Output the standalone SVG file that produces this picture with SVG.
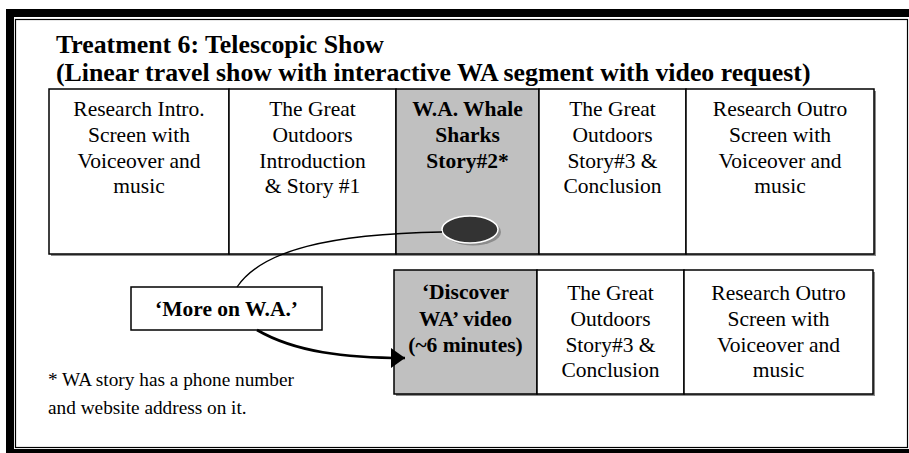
<svg xmlns="http://www.w3.org/2000/svg" width="909" height="453" viewBox="0 0 909 453">
  <style>
    .cell { fill: #ffffff; stroke: #000000; stroke-width: 1.5; }
    .grey { fill: #c0c0c0; stroke: #000000; stroke-width: 1.5; }
    .shadow { fill: #8c8c8c; }
    .t { font-family: "Liberation Serif", "Times New Roman", serif; font-size: 21.5px; fill: #000; text-anchor: middle; }
    .b { font-weight: bold; }
    .title { font-family: "Liberation Serif", "Times New Roman", serif; font-size: 25.8px; font-weight: bold; fill: #000; }
    .note { font-family: "Liberation Serif", "Times New Roman", serif; font-size: 19.3px; fill: #000; }
    .link { fill: none; stroke: #000; stroke-width: 1.3; }
    .flow { fill: none; stroke: #000; stroke-width: 2.6; }
  </style>
  <defs>
    <marker id="arrow" markerUnits="userSpaceOnUse" markerWidth="14" markerHeight="20" refX="14" refY="10" orient="auto">
      <path d="M0,0 L14,10 L0,20 z" fill="#000"/>
    </marker>
  </defs>

  <!-- page frame: thick outer band with thin inner rule -->
  <g id="frame">
    <rect x="6" y="9" width="920" height="460" fill="#000"/>
    <rect x="14" y="17" width="895" height="432" fill="#fff"/>
    <rect x="15.5" y="19.5" width="892" height="428" fill="none" stroke="#000" stroke-width="1.2"/>
  </g>

  <g id="title">
    <text class="title" x="56" y="53">Treatment 6: Telescopic Show</text>
    <text class="title" x="56" y="81">(Linear travel show with interactive WA segment with video request)</text>
  </g>

  <!-- drop shadows under each row -->
  <rect class="shadow" x="51" y="91" width="825" height="165"/>
  <rect class="shadow" x="396" y="272" width="479" height="124"/>

  <!-- linear show: top row -->
  <g id="intro">
    <rect class="cell" x="49" y="89" width="180" height="165"/>
    <text class="t" x="139" y="116">Research Intro.</text>
    <text class="t" x="139" y="142">Screen with</text>
    <text class="t" x="139" y="168">Voiceover and</text>
    <text class="t" x="139" y="193">music</text>
  </g>
  <g id="story1">
    <rect class="cell" x="229" y="89" width="167" height="165"/>
    <text class="t" x="312.5" y="116">The Great</text>
    <text class="t" x="312.5" y="142">Outdoors</text>
    <text class="t" x="312.5" y="168">Introduction</text>
    <text class="t" x="312.5" y="193">&amp; Story #1</text>
  </g>
  <g id="story2">
    <rect class="grey" x="396" y="89" width="143" height="165"/>
    <text class="t b" x="467.5" y="116">W.A. Whale</text>
    <text class="t b" x="467.5" y="142">Sharks</text>
    <text class="t b" x="467.5" y="168">Story#2*</text>
  </g>
  <g id="story3">
    <rect class="cell" x="539" y="89" width="147" height="165"/>
    <text class="t" x="612.5" y="116">The Great</text>
    <text class="t" x="612.5" y="142">Outdoors</text>
    <text class="t" x="612.5" y="168">Story#3 &amp;</text>
    <text class="t" x="612.5" y="193">Conclusion</text>
  </g>
  <g id="outro">
    <rect class="cell" x="686" y="89" width="188" height="165"/>
    <text class="t" x="780" y="116">Research Outro</text>
    <text class="t" x="780" y="142">Screen with</text>
    <text class="t" x="780" y="168">Voiceover and</text>
    <text class="t" x="780" y="193">music</text>
  </g>

  <!-- interactive button on the WA story -->
  <g id="button">
    <ellipse cx="473" cy="232" rx="28" ry="13.5" fill="#8c8c8c"/>
    <ellipse cx="470" cy="229.5" rx="28" ry="13.5" fill="#333333" stroke="#ffffff" stroke-width="1.5"/>
  </g>

  <g id="more">
    <rect class="cell" x="131" y="287" width="191" height="43"/>
    <text class="t b" x="226.5" y="316">‘More on W.A.’</text>
  </g>

  <!-- requested video branch: bottom row -->
  <g id="video">
    <rect class="grey" x="394" y="270" width="143" height="124"/>
    <text class="t b" x="465.5" y="299">‘Discover</text>
    <text class="t b" x="465.5" y="326">WA’ video</text>
    <text class="t b" x="465.5" y="352">(~6 minutes)</text>
  </g>
  <g id="story3b">
    <rect class="cell" x="537" y="270" width="147" height="124"/>
    <text class="t" x="610.5" y="300">The Great</text>
    <text class="t" x="610.5" y="326">Outdoors</text>
    <text class="t" x="610.5" y="352">Story#3 &amp;</text>
    <text class="t" x="610.5" y="377">Conclusion</text>
  </g>
  <g id="outrob">
    <rect class="cell" x="684" y="270" width="189" height="124"/>
    <text class="t" x="778.5" y="300">Research Outro</text>
    <text class="t" x="778.5" y="326">Screen with</text>
    <text class="t" x="778.5" y="352">Voiceover and</text>
    <text class="t" x="778.5" y="377">music</text>
  </g>

  <g id="connectors">
    <path class="link" d="M442,232 C330,234 262,250 237,287"/>
    <path class="flow" d="M257,330 C295,352 345,358 405,358" marker-end="url(#arrow)"/>
  </g>

  <g id="footnote">
    <text class="note" x="48" y="386">* WA story has a phone number</text>
    <text class="note" x="48" y="414">and website address on it.</text>
  </g>
</svg>
